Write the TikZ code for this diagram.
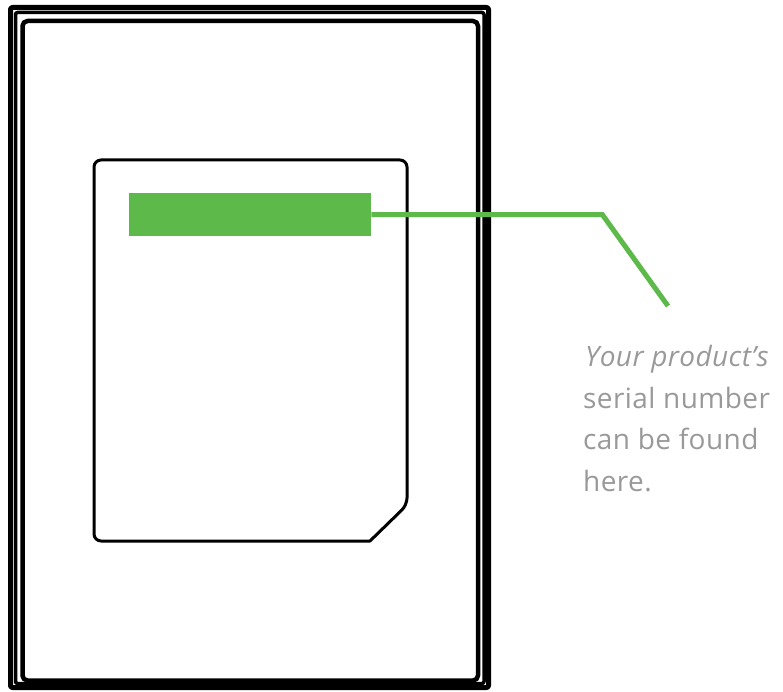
\documentclass[tikz,border=0pt]{standalone}
\usepackage{fontspec}
\newfontfamily\labfont[LetterSpace=1.5]{Open Sans}
\definecolor{lgreen}{HTML}{5DB94A}
\definecolor{lgray}{HTML}{999999}
\begin{document}
\begin{tikzpicture}[x=1pt,y=-1pt,
  frame/.style={draw=black,line join=round},
  card/.style={draw=black,line width=3pt,line join=round},
  label/.style={anchor=base west,inner sep=0pt,text=lgray,font=\labfont\fontsize{28}{32}\selectfont}]
\useasboundingbox (0,0) rectangle (783,692);
% outer frame
\draw[frame,line width=5pt,rounded corners=2pt] (10.5,7.5) rectangle (488.5,687.5);
\draw[frame,line width=3.5pt,rounded corners=2pt] (15.5,12.5) rectangle (484,683.5);
\draw[frame,line width=4.5pt,rounded corners=5pt] (22.5,21) rectangle (478,680.5);
% card
\draw[card,rounded corners=7pt] (370,541) -- (94,541) -- (94,160) -- (407,160) -- (407,505) [sharp corners] -- cycle;
% green marker
\node[fill=lgreen,inner sep=0pt,minimum width=242pt,minimum height=43pt,anchor=north west] (mark) at (129,193) {};
\coordinate (tip) at (668,306);
\draw[lgreen,line width=5pt] (mark.east) -- ++(231,0) coordinate (bend) -- (tip);
% text
\node[label] (l1) at (585,366) {\itshape Your product’s};
\node[label] (l2) at (583,408) {serial number};
\node[label] (l3) at (583,449) {can be found};
\node[label] (l4) at (583,491) {here.};
\end{tikzpicture}
\end{document}
